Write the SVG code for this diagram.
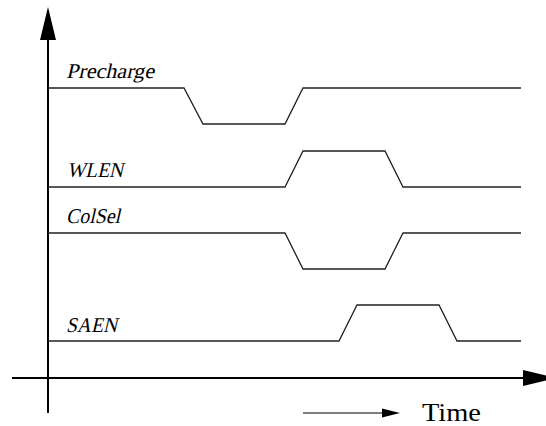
<svg xmlns="http://www.w3.org/2000/svg" width="546" height="426" viewBox="0 0 546 426">
<style>
.wave{fill:none;stroke:#222;stroke-width:1.3;stroke-linejoin:miter}
.axis{fill:none;stroke:#000;stroke-width:2}
.lbl{font-family:"Liberation Serif",serif;font-size:21px;fill:#000}
.time{font-family:"Liberation Serif",serif;font-size:26px;fill:#000}
</style>
<rect width="546" height="426" fill="#fff"/>
<g id="axes">
<line class="axis" x1="48" y1="38" x2="48" y2="413"/>
<polygon points="48,7 40,40 56,40" fill="#000"/>
<line class="axis" x1="12" y1="378" x2="525" y2="378"/>
<polygon points="557,378 523,370 523,386" fill="#000"/>
</g>
<g id="precharge">
<text class="lbl" transform="translate(66,78) skewX(-13)" textLength="88" lengthAdjust="spacingAndGlyphs">Precharge</text>
<polyline class="wave" points="48,88 184,88 203,124 285,124 303,88 521,88"/>
</g>
<g id="wlen">
<text class="lbl" transform="translate(67,177) skewX(-13)" textLength="56" lengthAdjust="spacingAndGlyphs">WLEN</text>
<polyline class="wave" points="48,187 285,187 303,151 385,151 403,187 521,187"/>
</g>
<g id="colsel">
<text class="lbl" transform="translate(66,223) skewX(-13)" textLength="54" lengthAdjust="spacingAndGlyphs">ColSel</text>
<polyline class="wave" points="48,233 285,233 303,269 385,269 403,233 521,233"/>
</g>
<g id="saen">
<text class="lbl" transform="translate(66,332) skewX(-13)" textLength="51" lengthAdjust="spacingAndGlyphs">SAEN</text>
<polyline class="wave" points="48,341 339,341 357,305 439,305 457,341 521,341"/>
</g>
<g id="time">
<line x1="303" y1="413" x2="384" y2="413" stroke="#555" stroke-width="1.5"/>
<polygon points="400,413 382,408.5 382,417.5" fill="#000"/>
<text class="time" x="422" y="421" textLength="59" lengthAdjust="spacingAndGlyphs">Time</text>
</g>
</svg>
